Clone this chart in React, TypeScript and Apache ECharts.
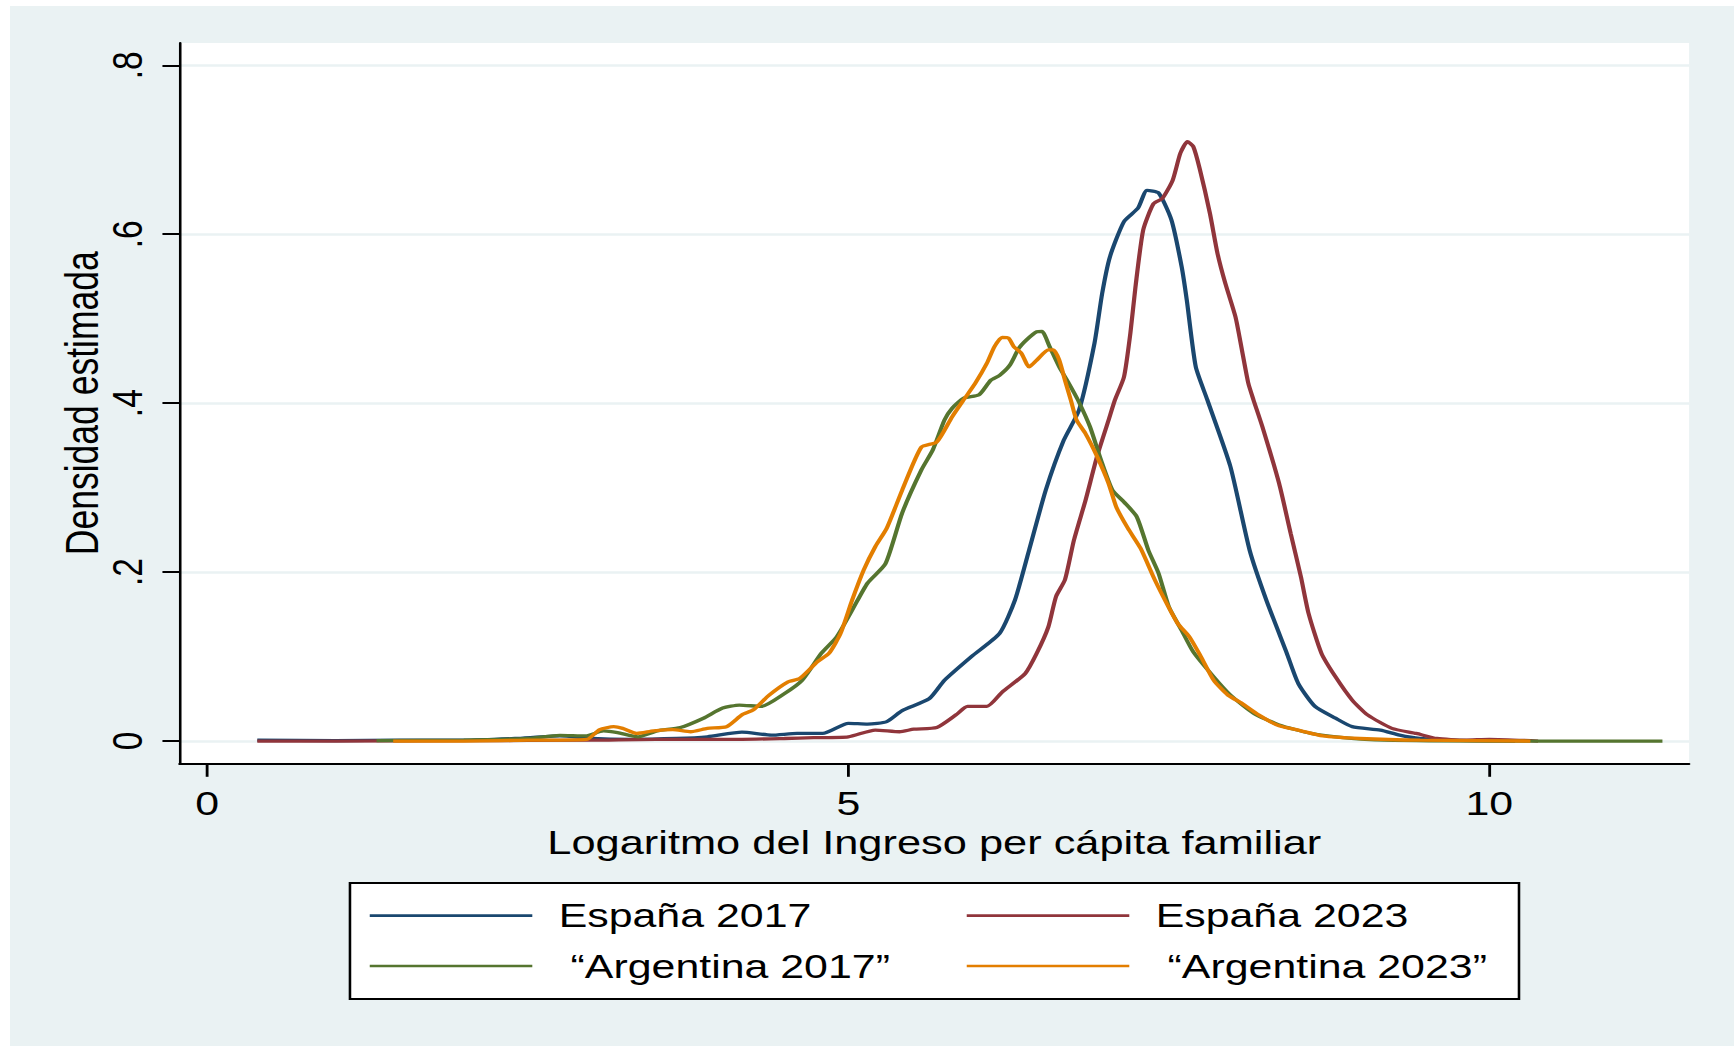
import React, { useEffect, useRef } from "react";
import * as echarts from "echarts";

// ---- data ----
const xTicks = [0, 5, 10];
const yTicks = [0, 0.2, 0.4, 0.6, 0.8];
const seriesNames = ["España 2017", "España 2023", " “Argentina 2017”", " “Argentina 2023”"];
const xTitle = "Logaritmo del Ingreso per cápita familiar";
const yTitle = "Densidad estimada";

const espana2017: [number, number][] = [
  [0.39, 0.001], [1.0, 0.0005], [1.5, 0.001], [2.0, 0.001], [2.4, 0.003], [2.75, 0.006], [3.0, 0.003],
  [3.3, 0.002], [3.66, 0.003], [3.9, 0.005], [4.17, 0.0105], [4.4, 0.007], [4.6, 0.009], [4.8, 0.009],
  [5.0, 0.021], [5.15, 0.02], [5.3, 0.023], [5.42, 0.036], [5.63, 0.05], [5.75, 0.072], [5.96, 0.1],
  [6.18, 0.1275], [6.3, 0.167], [6.41, 0.226], [6.54, 0.297], [6.68, 0.356], [6.8, 0.392], [6.92, 0.471],
  [6.98, 0.53], [7.04, 0.573], [7.15, 0.615], [7.26, 0.631], [7.33, 0.652], [7.42, 0.649], [7.52, 0.617],
  [7.6, 0.5615], [7.64, 0.522], [7.71, 0.443], [7.8, 0.404], [7.98, 0.325], [8.13, 0.226], [8.26, 0.167],
  [8.42, 0.104], [8.51, 0.068], [8.64, 0.041], [8.8, 0.027], [8.93, 0.017], [9.15, 0.013], [9.3, 0.007],
  [9.46, 0.003], [9.7, 0.001], [10.2, 0.0],
];

const espana2023: [number, number][] = [
  [0.39, 0.0], [1.0, 0.0], [2.0, 0.0005], [3.0, 0.001], [3.5, 0.002], [4.17, 0.002], [4.5, 0.003],
  [4.73, 0.004], [5.0, 0.005], [5.21, 0.013], [5.4, 0.011], [5.51, 0.014], [5.69, 0.016], [5.84, 0.031],
  [5.93, 0.041], [6.08, 0.041], [6.2, 0.058], [6.38, 0.08], [6.47, 0.104], [6.56, 0.135], [6.62, 0.171],
  [6.69, 0.191], [6.76, 0.238], [6.85, 0.285], [6.94, 0.337], [7.03, 0.38], [7.08, 0.404], [7.15, 0.431],
  [7.2, 0.483], [7.24, 0.538], [7.3, 0.605], [7.38, 0.636], [7.45, 0.6425], [7.53, 0.664], [7.59, 0.696],
  [7.645, 0.7096], [7.69, 0.704], [7.74, 0.678], [7.82, 0.625], [7.88, 0.577], [7.94, 0.542], [8.02, 0.502],
  [8.07, 0.463], [8.12, 0.4235], [8.16, 0.404], [8.23, 0.372], [8.36, 0.305], [8.45, 0.246], [8.53, 0.1945],
  [8.59, 0.151], [8.69, 0.104], [8.8, 0.076], [8.93, 0.0485], [9.05, 0.031], [9.24, 0.015], [9.43, 0.009],
  [9.59, 0.003], [9.81, 0.001], [10.0, 0.002], [10.38, 0.0],
];

const argentina2017: [number, number][] = [
  [1.32, 0.0005], [2.0, 0.001], [2.5, 0.003], [2.75, 0.0067], [2.95, 0.006], [3.09, 0.012], [3.2, 0.01],
  [3.36, 0.005], [3.51, 0.012], [3.69, 0.016], [3.87, 0.027], [4.02, 0.039], [4.15, 0.0426], [4.32, 0.041],
  [4.5, 0.056], [4.64, 0.072], [4.79, 0.104], [4.91, 0.1235], [5.03, 0.155], [5.15, 0.187], [5.29, 0.21],
  [5.42, 0.27], [5.57, 0.321], [5.66, 0.345], [5.75, 0.38], [5.81, 0.394], [5.9, 0.406], [6.02, 0.41],
  [6.11, 0.427], [6.18, 0.433], [6.26, 0.445], [6.33, 0.465], [6.39, 0.475], [6.47, 0.4846], [6.51, 0.485],
  [6.57, 0.467], [6.645, 0.443], [6.72, 0.4235], [6.79, 0.404], [6.885, 0.372], [6.97, 0.333], [7.06, 0.297],
  [7.15, 0.283], [7.25, 0.2655], [7.34, 0.226], [7.42, 0.1985], [7.5, 0.159], [7.6, 0.131], [7.69, 0.1057],
  [7.85, 0.076], [7.98, 0.0545], [8.16, 0.033], [8.36, 0.019], [8.61, 0.009], [8.86, 0.004], [9.18, 0.001],
  [10.0, 0.0], [11.35, 0.0],
];

const argentina2023: [number, number][] = [
  [1.45, 0.0], [2.0, 0.0], [2.5, 0.001], [2.96, 0.002], [3.06, 0.0135], [3.17, 0.017], [3.24, 0.015],
  [3.35, 0.009], [3.48, 0.012], [3.63, 0.0135], [3.77, 0.011], [3.9, 0.015], [4.05, 0.017], [4.17, 0.031],
  [4.26, 0.037], [4.38, 0.054], [4.53, 0.07], [4.62, 0.074], [4.76, 0.094], [4.85, 0.104], [4.94, 0.1275],
  [5.03, 0.167], [5.12, 0.2025], [5.21, 0.23], [5.3, 0.252], [5.42, 0.297], [5.57, 0.348], [5.69, 0.354],
  [5.81, 0.384], [5.9, 0.404], [5.99, 0.4235], [6.08, 0.447], [6.14, 0.467], [6.2, 0.478], [6.25, 0.477],
  [6.29, 0.467], [6.35, 0.459], [6.41, 0.443], [6.47, 0.451], [6.56, 0.463], [6.6, 0.463], [6.645, 0.451],
  [6.69, 0.427], [6.735, 0.404], [6.78, 0.38], [6.85, 0.364], [6.94, 0.337], [7.03, 0.305], [7.09, 0.277],
  [7.18, 0.252], [7.28, 0.228], [7.39, 0.191], [7.49, 0.161], [7.57, 0.139], [7.66, 0.1235], [7.75, 0.1],
  [7.85, 0.072], [7.96, 0.0545], [8.07, 0.0446], [8.2, 0.031], [8.36, 0.018], [8.51, 0.013], [8.7, 0.006],
  [8.99, 0.003], [9.46, 0.001], [10.32, 0.0],
];

const seriesData = [espana2017, espana2023, argentina2017, argentina2023];

// ---- styles / layout ----
const COLORS = ["#1A476F", "#90353B", "#55752F", "#E37E00"];
const BG = "#EAF2F3";
const FONT = "'Liberation Sans', Arial, Helvetica, sans-serif";
const S = 1.28; // horizontal stretch of the original picture
const OUTER_W = 1724;
const OUTER_H = 1040;
const INNER_W = OUTER_W / S;

const legendCommon = {
  orient: "vertical",
  top: 892.7,
  padding: 0,
  itemGap: 16.3,
  itemWidth: 127,
  itemHeight: 14,
  selectedMode: false,
  itemStyle: { opacity: 0 },
  lineStyle: { width: 2.7 },
  textStyle: { fontSize: 33.5, lineHeight: 34, color: "#000", fontFamily: FONT, padding: [0, 0, 0, 15.6] },
};

const option: any = {
  animation: false,
  backgroundColor: BG,
  textStyle: { fontFamily: FONT, color: "#000" },
  grid: {
    left: 132.4,
    right: 35.2,
    top: 37,
    bottom: 282.5,
    show: true,
    backgroundColor: "#ffffff",
    borderWidth: 0,
  },
  xAxis: {
    type: "value",
    min: -0.217,
    max: 11.558,
    z: 3,
    axisLine: { show: true, onZero: false, lineStyle: { color: "#000", width: 2 } },
    axisTick: { show: true, customValues: xTicks, length: 13.3, lineStyle: { color: "#000", width: 2.2 } },
    axisLabel: { customValues: xTicks, fontSize: 33.5, color: "#000", margin: 23, fontFamily: FONT },
    splitLine: { show: false },
    name: xTitle,
    nameLocation: "middle",
    nameGap: 60,
    nameTextStyle: { fontSize: 33.9, color: "#000", fontFamily: FONT },
  },
  yAxis: {
    type: "value",
    min: -0.0266,
    max: 0.8264,
    z: 3,
    axisLine: { show: true, onZero: false, lineStyle: { color: "#000", width: 2 } },
    axisTick: { show: true, customValues: yTicks, length: 13.3, lineStyle: { color: "#000", width: 2 } },
    axisLabel: {
      customValues: yTicks,
      rotate: 90,
      fontSize: 33.5,
      color: "#000",
      margin: 24,
      fontFamily: FONT,
      formatter: (v: number) => (v === 0 ? "0" : "." + Math.round(v * 10)),
    },
    splitLine: { show: false },
    name: yTitle,
    nameLocation: "middle",
    nameGap: 57.5,
    nameMoveOverlap: false,
    nameTextStyle: { fontSize: 35.5, color: "#000", fontFamily: FONT },
  },
  legend: [
    { ...legendCommon, data: [seriesNames[0], seriesNames[2]], left: 279.7 },
    { ...legendCommon, data: [seriesNames[1], seriesNames[3]], left: 746.1 },
  ],
  graphic: [
    {
      type: "rect",
      shape: { x: 265.6, y: 877, width: 913.3, height: 116 },
      style: { fill: "#ffffff", stroke: "#000", lineWidth: 2 },
      z: 0,
      silent: true,
    },
  ],
  series: seriesData.map((d, i) => ({
    type: "line",
    name: seriesNames[i],
    data: d,
    symbol: "none",
    showSymbol: false,
    smooth: 0.2,
    color: COLORS[i],
    lineStyle: { color: COLORS[i], width: 3.3 },
    emphasis: { disabled: true },
    z: 2,
    markLine:
      i === 0
        ? {
            silent: true,
            z: 1,
            symbol: ["none", "none"],
            label: { show: false },
            lineStyle: { color: BG, width: 2.5, type: "solid" },
            emphasis: { disabled: true },
            data: yTicks.map((t) => ({ yAxis: t })),
          }
        : undefined,
  })),
};

export default function App() {
  const ref = useRef<HTMLDivElement>(null);
  useEffect(() => {
    if (!ref.current) return;
    const chart = echarts.init(ref.current, null, { renderer: "svg" });
    chart.setOption(option);
    return () => chart.dispose();
  }, []);
  return (
    <div
      style={{
        position: "absolute",
        left: 10,
        top: 6,
        width: OUTER_W,
        height: OUTER_H,
        overflow: "hidden",
        background: BG,
      }}
    >
      <div
        ref={ref}
        style={{
          width: INNER_W,
          height: OUTER_H,
          transform: `scaleX(${S})`,
          transformOrigin: "0 0",
        }}
      />
    </div>
  );
}
